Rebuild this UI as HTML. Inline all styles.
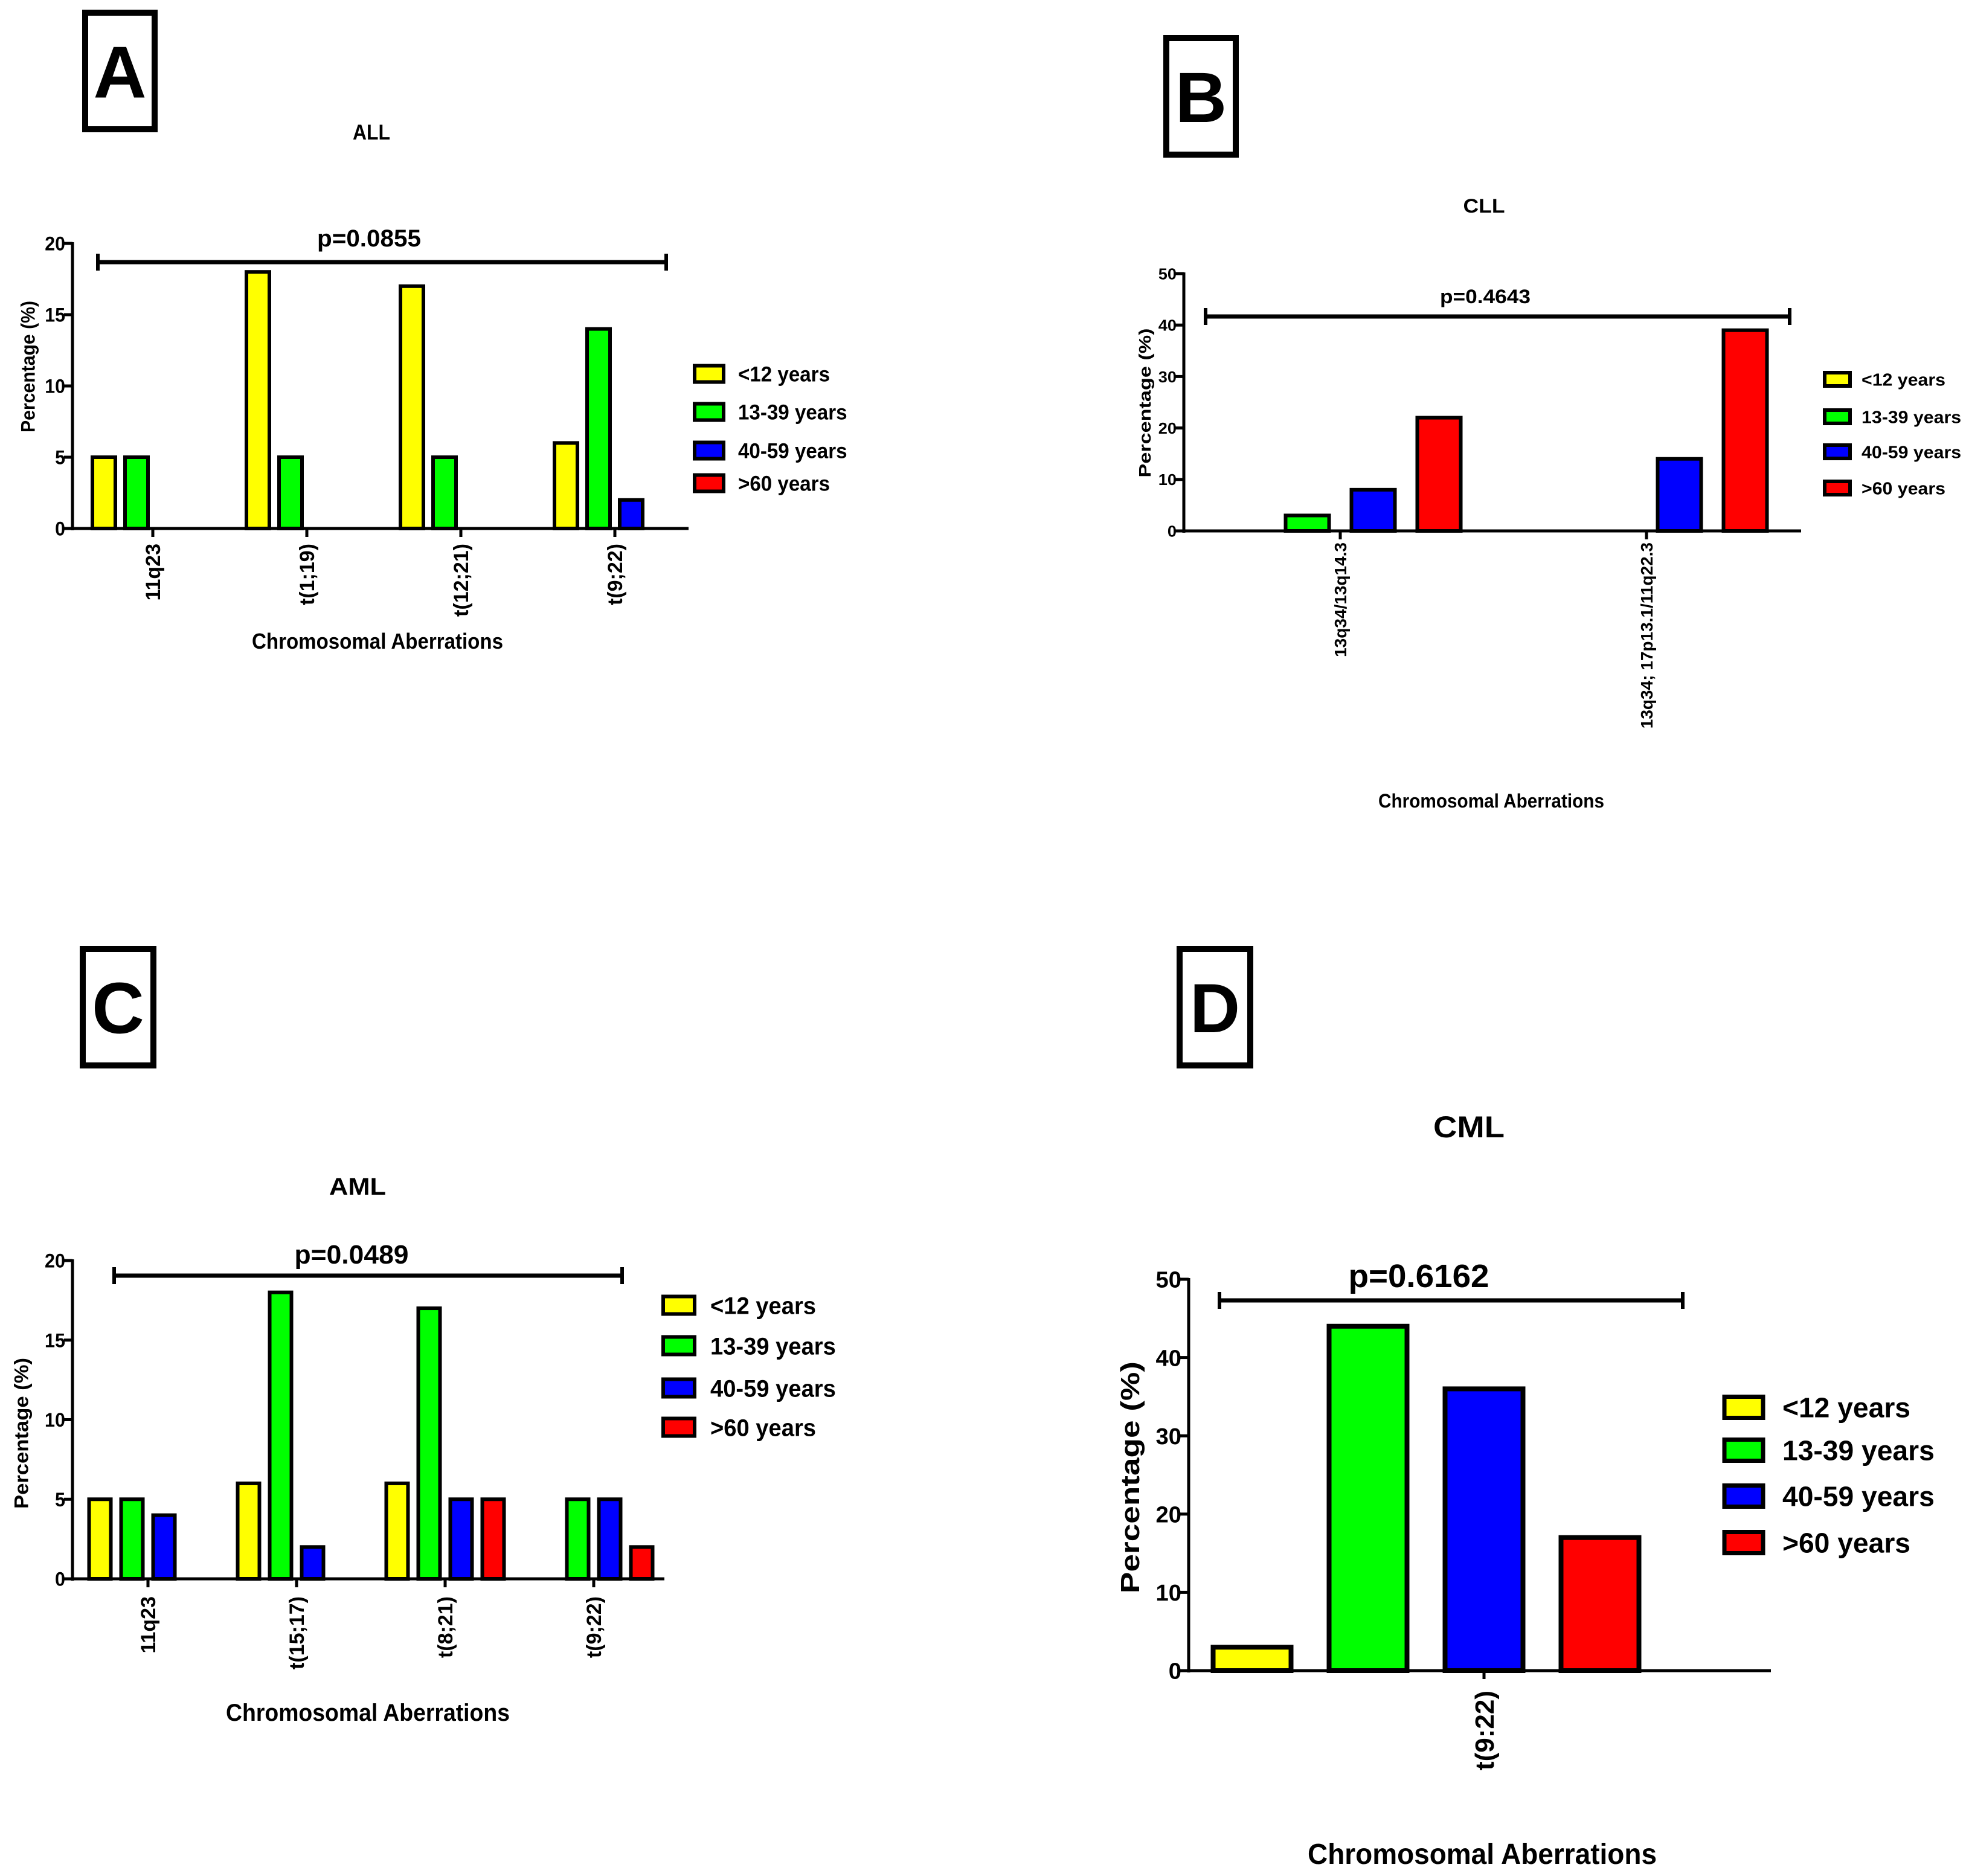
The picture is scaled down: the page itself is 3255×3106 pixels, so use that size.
<!DOCTYPE html>
<html><head><meta charset="utf-8"><style>
html,body{margin:0;padding:0;background:#fff;}
svg{display:block;}
</style></head><body>
<svg id="fig" width="3255" height="3106" viewBox="0 0 3255 3106" xmlns="http://www.w3.org/2000/svg"></svg>
<script>
// ---- data ----
const seriesNames = ["<12 years","13-39 years","40-59 years",">60 years"];
const seriesColors = ["#ffff00","#00ff00","#0000ff","#ff0000"];

const allCats = ["11q23","t(1;19)","t(12;21)","t(9;22)"];
const allYoung = [5,18,17,6];
const allAdult = [5,5,5,14];
const allMid = [0,0,0,2];
const allOld = [0,0,0,0];
const allTicks = [0,5,10,15,20];

const cllCats = ["13q34/13q14.3","13q34; 17p13.1/11q22.3"];
const cllYoung = [0,0];
const cllAdult = [3,0];
const cllMid = [8,14];
const cllOld = [22,39];
const cllTicks = [0,10,20,30,40,50];

const amlCats = ["11q23","t(15;17)","t(8;21)","t(9;22)"];
const amlYoung = [5,6,6,0];
const amlAdult = [5,18,17,5];
const amlMid = [4,2,5,5];
const amlOld = [0,0,5,2];
const amlTicks = [0,5,10,15,20];

const cmlCats = ["t(9:22)"];
const cmlYoung = [3];
const cmlAdult = [44];
const cmlMid = [36];
const cmlOld = [17];
const cmlTicks = [0,10,20,30,40,50];

const NS = "http://www.w3.org/2000/svg";
const svg = document.getElementById("fig");
const FF = "'Liberation Sans', sans-serif";
function mk(tag, attrs, parent, txt){
  const e = document.createElementNS(NS, tag);
  for (const k in attrs) e.setAttribute(k, attrs[k]);
  if (txt !== undefined) e.textContent = txt;
  (parent || svg).appendChild(e);
  return e;
}
function fit(t, w){ if (w){ t.setAttribute("textLength", w); t.setAttribute("lengthAdjust", "spacingAndGlyphs"); } }
function squeeze(t, sx){ if (sx && sx < 1.2){ const n = t.getComputedTextLength(); fit(t, n * sx); } }

function panel(p){
  const g = mk("g", {});
  
  
  const lb = mk("rect", {x:p.box[0], y:p.box[1], width:p.box[2], height:p.box[3], fill:"none", stroke:"#000", "stroke-width":10}, g);
  
  
  const lt = mk("text", {x:p.box[0]+p.box[2]/2, y:p.box[1]+p.box[3]/2+p.letterSize*0.36, "text-anchor":"middle", "font-family":FF, "font-weight":"bold", "font-size":p.letterSize}, g, p.letter);
  
  
  let sx = 1;
  seriesNames.forEach((n, i) => {
    const ly = p.leg.rows[i];
    const sw = mk("rect", {x:p.leg.x, y:ly - p.leg.h/2, width:p.leg.w, height:p.leg.h, fill:seriesColors[i], stroke:"#000", "stroke-width":p.leg.bw}, g);
    
    
    const t = mk("text", {x:p.leg.tx, y:ly + p.leg.size*0.36, "font-family":FF, "font-weight":"bold", "font-size":p.leg.size}, g, n);
    
    
    if (i === 0) sx = p.leg.w0 / t.getComputedTextLength();
    squeeze(t, sx);
  });
  const tt = mk("text", {x:p.title[0], y:p.title[1], "text-anchor":"middle", "font-family":FF, "font-weight":"bold", "font-size":p.titleSize}, g, p.titleText);
  
  
  fit(tt, p.titleW);
  const yMax = p.ticks[p.ticks.length-1];
  const ys = v => p.y0 - (p.y0 - p.yTop) * v / yMax;
  const groups = [p.s0, p.s1, p.s2, p.s3];
  p.cats.forEach((c, ci) => {
    const cx = p.x0 + p.catStart + ci * p.catStep;
    groups.forEach((arr, si) => {
      const v = arr[ci];
      if (!v) return;
      const bx = cx + (si - p.slotCenter) * p.slotStep - p.barW/2;
      const r = mk("rect", {x:bx, y:ys(v), width:p.barW, height:p.y0 - ys(v), fill:seriesColors[si], stroke:"#000", "stroke-width":p.bw}, g);
      
      
    });
    mk("line", {x1:cx, y1:p.y0, x2:cx, y2:p.y0+14, stroke:"#000", "stroke-width":5}, g);
    const tl = mk("text", {transform:`translate(${cx + p.xLabSize*0.36},${p.xLabTop}) rotate(-90)`, "text-anchor":"end", "font-family":FF, "font-weight":"bold", "font-size":p.xLabSize}, g, c);
    
    
  });
  const ya = mk("line", {x1:p.x0, y1:p.yTop-2, x2:p.x0, y2:p.y0+3, stroke:"#000", "stroke-width":5}, g);
  
  
  const xa = mk("line", {x1:p.x0-14, y1:p.y0, x2:p.xEnd, y2:p.y0, stroke:"#000", "stroke-width":5}, g);
  
  
  p.ticks.forEach(t => {
    mk("line", {x1:p.x0-14, y1:ys(t), x2:p.x0, y2:ys(t), stroke:"#000", "stroke-width":5}, g);
    const yl = mk("text", {x:p.x0-12, y:ys(t)+p.yLabSize*0.36, "text-anchor":"end", "font-family":FF, "font-weight":"bold", "font-size":p.yLabSize}, g, String(t));
    
    
    squeeze(yl, sx);
  });
  const yt = mk("text", {transform:`translate(${p.yTitle[0] + p.yTitleSize*0.36},${p.yTitle[1]}) rotate(-90)`, "text-anchor":"middle", "font-family":FF, "font-weight":"bold", "font-size":p.yTitleSize}, g, "Percentage (%)");
  
  
  fit(yt, p.yTitleW);
  const xt = mk("text", {x:p.xTitle[0], y:p.xTitle[1], "text-anchor":"middle", "font-family":FF, "font-weight":"bold", "font-size":p.xTitleSize}, g, "Chromosomal Aberrations");
  
  
  fit(xt, p.xTitleW);
  const b = p.bracket;
  mk("line", {x1:b[0], y1:b[2], x2:b[1], y2:b[2], stroke:"#000", "stroke-width":7}, g);
  mk("line", {x1:b[0], y1:b[2]-14, x2:b[0], y2:b[2]+14, stroke:"#000", "stroke-width":6}, g);
  mk("line", {x1:b[1], y1:b[2]-14, x2:b[1], y2:b[2]+14, stroke:"#000", "stroke-width":6}, g);
  const pt = mk("text", {x:p.pText[0], y:p.pText[1], "text-anchor":"middle", "font-family":FF, "font-weight":"bold", "font-size":p.pSize}, g, p.pValue);
  
  
  fit(pt, p.pW);
}

panel({id:"all", letter:"A", box:[141,21,115,193], letterSize:122,
  title:[615,231], titleText:"ALL", titleSize:35, titleW:62,
  x0:120, y0:875, yTop:403, xEnd:1140, ticks:allTicks,
  cats:allCats, s0:allYoung, s1:allAdult, s2:allMid, s3:allOld,
  catStart:133, catStep:255, slotStep:54, slotCenter:1.5, barW:38, bw:6,
  xLabTop:900, xLabSize:34, yLabSize:32,
  yTitle:[46,607], yTitleSize:32, yTitleW:218, xTitle:[625,1074], xTitleSize:36, xTitleW:416,
  bracket:[162,1103,434], pText:[611,408], pSize:40, pW:172, pValue:"p=0.0855",
  leg:{x:1150, w:48, h:27, bw:6, rows:[619,682,746,800], tx:1222, size:35, w0:152}});

panel({id:"cll", letter:"B", box:[1931,63,115,193], letterSize:118,
  title:[2457,352], titleText:"CLL", titleSize:32, titleW:69,
  x0:1960, y0:879, yTop:453, xEnd:2982, ticks:cllTicks,
  cats:cllCats, s0:cllYoung, s1:cllAdult, s2:cllMid, s3:cllOld,
  catStart:259, catStep:507, slotStep:109, slotCenter:1.5, barW:72, bw:6,
  xLabTop:898, xLabSize:28, yLabSize:26,
  yTitle:[1895,667], yTitleSize:28, yTitleW:247, xTitle:[2469,1337], xTitleSize:32, xTitleW:374,
  bracket:[1996,2963,524], pText:[2459,502], pSize:32, pW:150, pValue:"p=0.4643",
  leg:{x:3021, w:42, h:22, bw:6, rows:[628,690,748,808], tx:3082, size:29, w0:139}});

panel({id:"aml", letter:"C", box:[137,1571,117,193], letterSize:120,
  title:[592,1978], titleText:"AML", titleSize:40, titleW:94,
  x0:120, y0:2614, yTop:2087, xEnd:1100, ticks:amlTicks,
  cats:amlCats, s0:amlYoung, s1:amlAdult, s2:amlMid, s3:amlOld,
  catStart:125, catStep:246, slotStep:53, slotCenter:1.5, barW:36, bw:6,
  xLabTop:2643, xLabSize:34, yLabSize:32,
  yTitle:[35,2373], yTitleSize:32, yTitleW:250, xTitle:[609,2849], xTitleSize:40, xTitleW:470,
  bracket:[189,1030,2112], pText:[582,2092], pSize:44, pW:189, pValue:"p=0.0489",
  leg:{x:1098, w:52, h:29, bw:6, rows:[2161,2228,2298,2363], tx:1176, size:40, w0:175}});

panel({id:"cml", letter:"D", box:[1953,1571,117,193], letterSize:115,
  title:[2432,1883], titleText:"CML", titleSize:50, titleW:118,
  x0:1968, y0:2766, yTop:2118, xEnd:2932, ticks:cmlTicks,
  cats:cmlCats, s0:cmlYoung, s1:cmlAdult, s2:cmlMid, s3:cmlOld,
  catStart:489, catStep:200, slotStep:192, slotCenter:2, barW:129, bw:8,
  xLabTop:2799, xLabSize:44, yLabSize:38,
  yTitle:[1870,2446], yTitleSize:44, yTitleW:384, xTitle:[2454,3086], xTitleSize:48, xTitleW:578,
  bracket:[2019,2786,2153], pText:[2349,2131], pSize:54, pW:233, pValue:"p=0.6162",
  leg:{x:2855, w:64, h:35, bw:7, rows:[2330,2401,2477,2554], tx:2951, size:46, w0:212}});
</script>
</body></html>
